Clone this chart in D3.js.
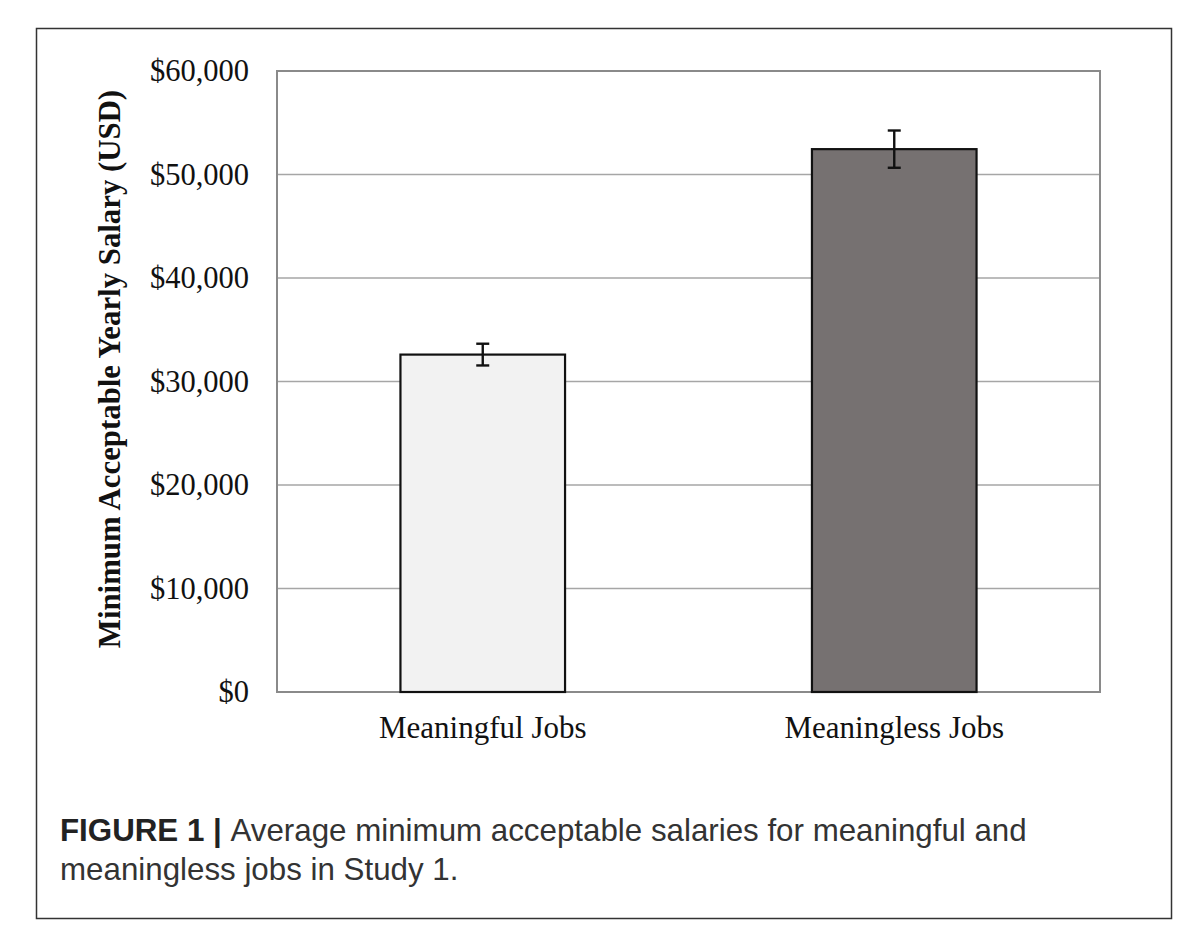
<!DOCTYPE html>
<head>
  <meta charset="utf-8">
  <script src="https://d3js.org/d3.v7.min.js"></script>
  <style>
    body { margin:0; background:#fff; }
    .tick-label { font-family: "Liberation Serif", "Times New Roman", serif; font-size: 30.5px; fill: #111; }
    .cat-label { font-family: "Liberation Serif", "Times New Roman", serif; font-size: 31px; fill: #111; }
    .y-title { font-family: "Liberation Serif", "Times New Roman", serif; font-size: 30.8px; font-weight: bold; fill: #111; }
    .caption { font-family: "Liberation Sans", Arial, sans-serif; font-size: 31.3px; fill: #333; }
  </style>
</head>
<body>
  <div class="chart"></div>
  <script>
    const categories = ['Meaningful Jobs', 'Meaningless Jobs'];
    const means = [32600, 52450];
    const errors = [1050, 1800];
    const fills = ['#f2f2f2', '#767171'];
    const yTicks = [0, 10000, 20000, 30000, 40000, 50000, 60000];

    const fullWidth = 1199, fullHeight = 936;
    const plot = { left: 277, top: 71, right: 1100, bottom: 692 };

    const svg = d3.select('.chart')
      .append('svg')
        .attr('width', fullWidth)
        .attr('height', fullHeight);

    // outer figure frame
    svg.append('rect')
      .attr('x', 36.5).attr('y', 28.5)
      .attr('width', 1135).attr('height', 890)
      .attr('fill', 'none')
      .attr('stroke', '#333')
      .attr('stroke-width', 1.5);

    const xScale = d3.scaleBand()
      .domain(categories)
      .range([plot.left, plot.right])
      .paddingInner(0.6)
      .paddingOuter(0.3);

    const yScale = d3.scaleLinear()
      .domain([0, 60000])
      .range([plot.bottom, plot.top]);

    // gridlines
    svg.append('g')
      .selectAll('line')
      .data(yTicks.slice(1, -1))
      .enter()
      .append('line')
        .attr('x1', plot.left).attr('x2', plot.right)
        .attr('y1', d => yScale(d)).attr('y2', d => yScale(d))
        .attr('stroke', '#a6a6a6')
        .attr('stroke-width', 1.5);

    // plot border
    svg.append('rect')
      .attr('x', plot.left).attr('y', plot.top)
      .attr('width', plot.right - plot.left)
      .attr('height', plot.bottom - plot.top)
      .attr('fill', 'none')
      .attr('stroke', '#8a8a8a')
      .attr('stroke-width', 2);

    // y axis labels
    const yAxis = d3.axisLeft(yScale)
      .tickValues(yTicks)
      .tickFormat(d3.format('$,.0f'))
      .tickSize(0)
      .tickPadding(28);

    const yAxisGroup = svg.append('g')
      .attr('transform', `translate(${plot.left}, 0)`)
      .call(yAxis);
    yAxisGroup.select('.domain').remove();
    yAxisGroup.selectAll('text')
      .attr('class', 'tick-label')
      .attr('font-family', null)
      .attr('font-size', null);

    // bars
    svg.selectAll('.bar')
      .data(categories)
      .enter()
      .append('rect')
        .attr('class', 'bar')
        .attr('x', d => xScale(d))
        .attr('y', (d, i) => yScale(means[i]))
        .attr('width', xScale.bandwidth())
        .attr('height', (d, i) => plot.bottom - yScale(means[i]))
        .attr('fill', (d, i) => fills[i])
        .attr('stroke', '#111')
        .attr('stroke-width', 2.2);

    // error bars
    const err = svg.append('g')
      .selectAll('g')
      .data(categories)
      .enter()
      .append('g')
        .attr('stroke', '#111')
        .attr('stroke-width', 2.4);
    const cap = 6.5;
    err.append('line')
      .attr('x1', d => xScale(d) + xScale.bandwidth() / 2)
      .attr('x2', d => xScale(d) + xScale.bandwidth() / 2)
      .attr('y1', (d, i) => yScale(means[i] + errors[i]))
      .attr('y2', (d, i) => yScale(means[i] - errors[i]));
    err.append('line')
      .attr('x1', d => xScale(d) + xScale.bandwidth() / 2 - cap)
      .attr('x2', d => xScale(d) + xScale.bandwidth() / 2 + cap)
      .attr('y1', (d, i) => yScale(means[i] + errors[i]))
      .attr('y2', (d, i) => yScale(means[i] + errors[i]));
    err.append('line')
      .attr('x1', d => xScale(d) + xScale.bandwidth() / 2 - cap)
      .attr('x2', d => xScale(d) + xScale.bandwidth() / 2 + cap)
      .attr('y1', (d, i) => yScale(means[i] - errors[i]))
      .attr('y2', (d, i) => yScale(means[i] - errors[i]));

    // category labels
    const xAxis = d3.axisBottom(xScale).tickSize(0).tickPadding(0);
    const xAxisGroup = svg.append('g')
      .attr('transform', `translate(0, ${plot.bottom})`)
      .call(xAxis);
    xAxisGroup.select('.domain').remove();
    xAxisGroup.selectAll('text')
      .attr('class', 'cat-label')
      .attr('font-family', null)
      .attr('font-size', null)
      .attr('dy', null)
      .attr('y', 46);

    // y axis title
    svg.append('text')
      .attr('class', 'y-title')
      .attr('text-anchor', 'middle')
      .attr('transform', `translate(120, 369) rotate(-90)`)
      .text('Minimum Acceptable Yearly Salary (USD)');

    // caption
    const cap1 = svg.append('text')
      .attr('class', 'caption')
      .attr('x', 60).attr('y', 841);
    cap1.append('tspan').attr('font-weight', 'bold').attr('fill', '#222').text('FIGURE 1 | ');
    cap1.append('tspan').text('Average minimum acceptable salaries for meaningful and');
    svg.append('text')
      .attr('class', 'caption')
      .attr('x', 60).attr('y', 880)
      .text('meaningless jobs in Study 1.');
  </script>
</body>
